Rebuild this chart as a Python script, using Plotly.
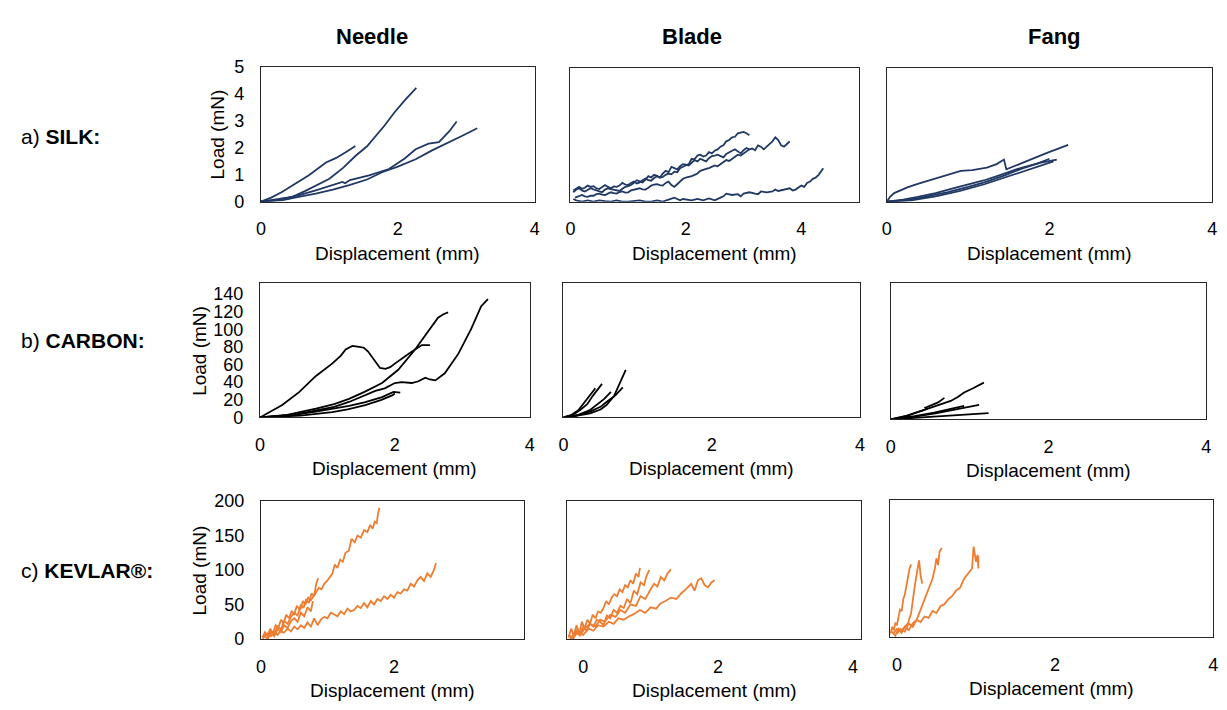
import plotly.graph_objects as go

OFF = 8                      # browser body margin around the plot div
W, H = 1227, 710

# ---------------- data (Displacement in mm, Load in mN) ----------------
# Silk - Needle
silk_needle_x = [
    [0, 0.15, 0.3, 0.46, 0.65, 0.8, 1.0, 1.2, 1.38, 1.55, 1.72, 1.8, 1.95, 2.1, 2.27],
    [0, 0.15, 0.3, 0.51, 0.7, 0.95, 1.1, 1.25, 1.38],
    [0, 0.2, 0.4, 0.56, 0.8, 1.0, 1.19, 1.23, 1.3, 1.58, 1.87, 2.1, 2.26, 2.45, 2.6, 2.75, 2.86],
    [0, 0.32, 0.55, 0.8, 1.05, 1.29, 1.55, 1.77, 2.0, 2.26, 2.5, 2.74, 2.95, 3.16],
]
silk_needle_y = [
    [0, 0.05, 0.1, 0.18, 0.4, 0.6, 0.85, 1.25, 1.69, 2.05, 2.54, 2.8, 3.3, 3.75, 4.21],
    [0, 0.15, 0.35, 0.67, 0.98, 1.45, 1.62, 1.85, 2.06],
    [0, 0.05, 0.15, 0.24, 0.42, 0.58, 0.73, 0.68, 0.8, 0.97, 1.21, 1.6, 1.94, 2.15, 2.2, 2.6, 2.97],
    [0, 0.06, 0.18, 0.30, 0.45, 0.61, 0.82, 1.09, 1.3, 1.57, 1.9, 2.18, 2.45, 2.72],
]
# Silk - Blade
silk_blade_x = [
    [0.05, 0.1, 0.15, 0.2, 0.25, 0.3, 0.35, 0.4, 0.45, 0.5, 0.55, 0.6, 0.65, 0.7, 0.75, 0.8, 0.85,
     0.9, 0.95, 1.0, 1.05, 1.1, 1.15, 1.2, 1.25, 1.3, 1.35, 1.4, 1.45, 1.5, 1.55, 1.6, 1.65, 1.7,
     1.75, 1.8, 1.85, 1.9, 1.95, 2.0, 2.05, 2.1, 2.15, 2.2, 2.25, 2.3, 2.35, 2.4, 2.45, 2.5, 2.55,
     2.6, 2.65, 2.7, 2.75, 2.8, 2.85, 2.9, 2.95, 3.0, 3.05, 3.1],
    [0.05, 0.1, 0.15, 0.2, 0.25, 0.3, 0.35, 0.4, 0.45, 0.5, 0.55, 0.6, 0.65, 0.7, 0.75, 0.8, 0.85,
     0.9, 0.95, 1.0, 1.05, 1.1, 1.15, 1.2, 1.25, 1.3, 1.35, 1.4, 1.45, 1.5, 1.55, 1.6, 1.65, 1.7,
     1.75, 1.8, 1.85, 1.9, 1.95, 2.0, 2.05, 2.1, 2.15, 2.2, 2.25, 2.3, 2.35, 2.4, 2.45, 2.5, 2.55,
     2.6, 2.65, 2.7, 2.75, 2.8, 2.85, 2.9, 2.95, 3.0, 3.05, 3.1, 3.15, 3.2, 3.25, 3.3, 3.35, 3.4,
     3.45, 3.5, 3.55, 3.6, 3.65, 3.7, 3.75, 3.8],
    [0.08, 0.15, 0.2, 0.25, 0.3, 0.35, 0.4, 0.45, 0.5, 0.55, 0.6, 0.65, 0.7, 0.75, 0.8, 0.85, 0.9,
     0.95, 1.0, 1.05, 1.1, 1.15, 1.2, 1.25, 1.3, 1.35, 1.4, 1.45, 1.5, 1.55, 1.6, 1.65, 1.7, 1.75,
     1.8, 1.85, 1.9, 1.95, 2.0, 2.05, 2.1, 2.15, 2.2, 2.25, 2.3, 2.35, 2.4, 2.45, 2.5, 2.55, 2.6,
     2.65, 2.7, 2.75, 2.8, 2.85, 2.9, 2.95, 3.0, 3.05, 3.1],
    [0.05, 0.1, 0.2, 0.3, 0.4, 0.5, 0.6, 0.7, 0.8, 0.9, 1.0, 1.1, 1.2, 1.3, 1.4, 1.5, 1.6, 1.7, 1.8,
     1.85, 1.9, 1.95, 2.0, 2.1, 2.2, 2.3, 2.4, 2.5, 2.6, 2.65, 2.7, 2.8, 2.9, 2.95, 3.0, 3.1, 3.2,
     3.25, 3.3, 3.4, 3.5, 3.55, 3.6, 3.7, 3.8, 3.85, 3.9, 4.0, 4.05, 4.1, 4.15, 4.2, 4.25, 4.3, 4.35,
     4.38],
]
silk_blade_y = [
    [0.42, 0.5, 0.55, 0.48, 0.52, 0.6, 0.55, 0.58, 0.5, 0.47, 0.55, 0.62, 0.55, 0.5, 0.57, 0.55, 0.6,
     0.7, 0.64, 0.62, 0.7, 0.75, 0.68, 0.72, 0.8, 0.86, 0.8, 0.78, 0.88, 0.95, 0.9, 0.92, 1.0, 1.05,
     1.02, 1.12, 1.1, 1.25, 1.3, 1.35, 1.4, 1.6, 1.58, 1.72, 1.75, 1.68, 1.72, 1.85, 1.8, 1.9, 1.95,
     2.05, 2.1, 2.25, 2.3, 2.4, 2.42, 2.55, 2.58, 2.6, 2.55, 2.48],
    [0.35, 0.45, 0.5, 0.42, 0.38, 0.45, 0.5, 0.46, 0.42, 0.38, 0.35, 0.45, 0.5, 0.47, 0.45, 0.42,
     0.4, 0.48, 0.55, 0.58, 0.62, 0.7, 0.8, 0.76, 0.72, 0.82, 0.95, 0.9, 1.0, 0.96, 0.9, 1.05, 1.15,
     1.1, 1.3, 1.25, 1.2, 1.32, 1.4, 1.38, 1.35, 1.45, 1.55, 1.5, 1.6, 1.55, 1.5, 1.62, 1.7, 1.72,
     1.75, 1.7, 1.65, 1.78, 1.85, 1.9, 1.95, 1.88, 1.8, 1.92, 2.0, 1.95, 1.98, 1.92, 2.1, 2.05, 1.95,
     2.05, 2.15, 2.25, 2.4, 2.3, 2.1, 2.05, 2.15, 2.25],
    [0.15, 0.22, 0.25, 0.2, 0.18, 0.22, 0.22, 0.28, 0.3, 0.26, 0.25, 0.3, 0.35, 0.32, 0.3, 0.36, 0.38,
     0.34, 0.35, 0.42, 0.45, 0.48, 0.5, 0.46, 0.45, 0.52, 0.6, 0.64, 0.65, 0.62, 0.6, 0.7, 0.75,
     0.62, 0.55, 0.65, 0.75, 0.85, 0.9, 0.92, 0.95, 1.0, 1.05, 1.15, 1.2, 1.22, 1.25, 1.3, 1.35,
     1.32, 1.4, 1.48, 1.55, 1.52, 1.6, 1.68, 1.75, 1.72, 1.8, 1.88, 1.95],
    [0.1, 0.05, 0.0, 0.05, 0.0, 0.05, 0.02, 0.0, 0.05, 0.0, 0.0, 0.03, 0.05, 0.0, 0.0, 0.05, 0.0, 0.08,
     0.15, 0.1, 0.05, 0.1, 0.08, 0.05, 0.1, 0.05, 0.12, 0.05, 0.15, 0.2, 0.3, 0.25, 0.28, 0.2, 0.3,
     0.35, 0.3, 0.28, 0.38, 0.35, 0.38, 0.45, 0.4, 0.45, 0.5, 0.42, 0.45, 0.6, 0.55, 0.7, 0.75, 0.85,
     0.9, 1.0, 1.15, 1.25],
]
# Silk - Fang
silk_fang_x = [
    [0, 0.02, 0.04, 0.09, 0.18, 0.26, 0.4, 0.58, 0.75, 0.91, 1.05, 1.23, 1.35, 1.44, 1.47, 1.55, 1.72, 1.97, 2.23],
    [0, 0.2, 0.38, 0.6, 0.79, 1.0, 1.19, 1.4, 1.6, 1.88, 2.09],
    [0, 0.25, 0.5, 0.75, 1.0, 1.2, 1.45, 1.65, 1.85, 2.0],
    [0, 0.3, 0.6, 0.9, 1.2, 1.5, 1.75, 1.95, 2.05],
]
silk_fang_y = [
    [0, 0.1, 0.18, 0.32, 0.45, 0.54, 0.68, 0.85, 1.0, 1.15, 1.18, 1.27, 1.4, 1.57, 1.21, 1.3, 1.51, 1.82, 2.12],
    [0, 0.08, 0.18, 0.32, 0.48, 0.63, 0.79, 1.0, 1.21, 1.45, 1.57],
    [0, 0.06, 0.2, 0.36, 0.55, 0.72, 0.98, 1.22, 1.42, 1.6],
    [0, 0.05, 0.2, 0.4, 0.65, 0.95, 1.2, 1.4, 1.5],
]
# Carbon - Needle
carbon_needle_x = [
    [0, 0.15, 0.33, 0.58, 0.83, 1.07, 1.2, 1.27, 1.37, 1.47, 1.54, 1.6, 1.66, 1.72, 1.78, 1.86, 1.93,
     2.0, 2.1, 2.2, 2.3, 2.4, 2.52],
    [0, 0.4, 0.83, 1.1, 1.32, 1.55, 1.81, 2.05, 2.3, 2.5, 2.64, 2.72, 2.79],
    [0, 0.5, 0.83, 1.1, 1.32, 1.5, 1.71, 1.85, 2.0, 2.1, 2.25, 2.35, 2.45, 2.52, 2.6, 2.74, 2.94, 3.13, 3.28, 3.38],
    [0, 0.5, 0.83, 1.1, 1.32, 1.55, 1.81, 1.98, 2.08],
    [0, 0.6, 1.07, 1.3, 1.56, 1.8, 1.96, 2.0],
]
carbon_needle_y = [
    [0, 6, 14, 28.7, 47, 61, 70, 77, 81, 80, 79, 75, 69, 62, 56, 55, 57, 61, 66, 72, 77, 82, 82],
    [0, 3, 10, 15, 21, 29, 39, 54, 77, 99, 113, 117, 119],
    [0, 3, 8, 12, 17.5, 23, 30, 33, 39, 40, 39, 41, 45, 43, 42, 50, 72, 100, 126, 134],
    [0, 3, 6.6, 10, 13, 17, 23, 29, 28],
    [0, 2, 6, 9, 14, 20, 25, 27],
]
# Carbon - Blade
carbon_blade_x = [
    [0, 0.15, 0.36, 0.5, 0.58, 0.68, 0.76, 0.84],
    [0, 0.12, 0.22, 0.32, 0.40, 0.46, 0.52],
    [0, 0.1, 0.2, 0.27, 0.35, 0.43],
    [0, 0.15, 0.36, 0.5, 0.58, 0.7, 0.8],
    [0, 0.2, 0.35, 0.45, 0.55, 0.64],
]
carbon_blade_y = [
    [0, 1.5, 4.7, 9, 14, 24, 39, 54],
    [0, 2.5, 8, 15, 25, 31, 38],
    [0, 2.5, 8, 16, 24, 33],
    [0, 1.5, 6.6, 12, 17.5, 25, 34],
    [0, 3, 8, 14, 21, 29],
]
# Carbon - Fang
carbon_fang_x = [
    [0, 0.2, 0.34, 0.46, 0.55, 0.68, 0.76, 0.85, 0.93, 1.05, 1.18],
    [0, 0.2, 0.34, 0.46, 0.44, 0.5, 0.6, 0.68],
    [0, 0.3, 0.55, 0.8, 0.95, 1.12],
    [0, 0.3, 0.55, 0.75, 0.93],
    [0, 0.3, 0.55, 0.9, 1.24],
]
carbon_fang_y = [
    [0, 4, 8, 11.6, 14.5, 18, 20.6, 25, 30, 35, 41],
    [0, 4, 8, 11.6, 13, 15, 19, 24],
    [0, 3, 6.5, 10.5, 13, 16.3],
    [0, 3.5, 7.5, 11, 15],
    [0, 1.5, 3, 5, 7],
]
# Kevlar - Needle
kevlar_needle_x = [
    [0.02, 0.06, 0.1, 0.14, 0.18, 0.22, 0.26, 0.3, 0.34, 0.38, 0.42, 0.46, 0.5, 0.54, 0.59, 0.63, 0.67,
     0.71, 0.75, 0.79, 0.83, 0.87, 0.91, 0.95, 0.99, 1.03, 1.07, 1.11, 1.15, 1.19, 1.23, 1.27, 1.32,
     1.36, 1.41, 1.45, 1.5, 1.55, 1.6, 1.64, 1.68, 1.71, 1.74, 1.76, 1.78],
    [0.03, 0.07, 0.11, 0.15, 0.2, 0.25, 0.3, 0.35, 0.4, 0.45, 0.5, 0.55, 0.6, 0.64, 0.68, 0.72, 0.76,
     0.8, 0.83, 0.86],
    [0.05, 0.1, 0.15, 0.2, 0.25, 0.3, 0.35, 0.4, 0.45, 0.5, 0.55, 0.6, 0.65, 0.7, 0.75, 0.78],
    [0.05, 0.1, 0.15, 0.2, 0.25, 0.3, 0.34, 0.4, 0.45, 0.5, 0.55, 0.6, 0.65, 0.7, 0.75, 0.8, 0.85, 0.9,
     0.95, 1.0, 1.05, 1.1, 1.15, 1.2, 1.25, 1.3, 1.35, 1.4, 1.45, 1.5, 1.55, 1.6, 1.65, 1.7, 1.75, 1.8,
     1.85, 1.9, 1.95, 2.0, 2.05, 2.1, 2.15, 2.2, 2.25, 2.3, 2.35, 2.4, 2.45, 2.5, 2.55, 2.6, 2.63],
]
kevlar_needle_y = [
    [2, 10, 5, 15, 8, 20, 16, 28, 23, 35, 30, 40, 36, 48, 42, 55, 50, 60, 56, 62, 68, 74, 72, 80, 84,
     90, 94, 108, 103, 115, 112, 125, 128, 145, 140, 150, 147, 158, 155, 165, 160, 170, 168, 182, 190],
    [0, 8, 3, 12, 6, 18, 14, 26, 22, 32, 38, 34, 50, 45, 58, 52, 66, 62, 80, 88],
    [5, 0, 10, 4, 14, 10, 20, 16, 26, 30, 25, 38, 33, 46, 40, 55],
    [3, 8, 4, 10, 6, 12, 9, 15, 11, 18, 14, 20, 16, 24, 18, 30, 20, 28, 32, 30, 38, 35, 33, 40, 36, 44,
     40, 42, 48, 45, 52, 46, 55, 50, 58, 55, 62, 58, 64, 60, 68, 66, 72, 70, 80, 76, 85, 90, 84, 95,
     90, 100, 110],
]
# Kevlar - Blade
kevlar_blade_x = [
    [-0.22, -0.18, -0.14, -0.1, -0.06, -0.02, 0.02, 0.06, 0.1, 0.14, 0.18, 0.22, 0.26, 0.3, 0.34, 0.38,
     0.42, 0.46, 0.5, 0.54, 0.58, 0.62, 0.66, 0.7, 0.74, 0.78, 0.82, 0.84],
    [-0.2, -0.15, -0.1, -0.05, 0, 0.05, 0.1, 0.15, 0.2, 0.25, 0.3, 0.35, 0.4, 0.45, 0.5, 0.55, 0.6,
     0.65, 0.7, 0.75, 0.8, 0.85, 0.9, 0.94, 0.98],
    [-0.2, -0.12, -0.05, 0.02, 0.1, 0.18, 0.25, 0.32, 0.4, 0.48, 0.55, 0.62, 0.7, 0.78, 0.85, 0.92, 1.0,
     1.05, 1.1, 1.15, 1.2, 1.25, 1.3],
    [-0.15, -0.08, 0, 0.08, 0.15, 0.22, 0.3, 0.38, 0.45, 0.52, 0.6, 0.68, 0.75, 0.84, 0.92, 1.0, 1.08,
     1.15, 1.22, 1.3, 1.38, 1.45, 1.52, 1.6, 1.65, 1.7, 1.75, 1.8, 1.85, 1.9, 1.95],
]
kevlar_blade_y = [
    [2, 15, 5, 20, 8, 25, 15, 28, 22, 35, 30, 40, 38, 45, 55, 50, 60, 65, 62, 72, 68, 78, 75, 85, 80,
     95, 90, 103],
    [5, 0, 12, 6, 18, 12, 22, 18, 28, 25, 20, 34, 30, 42, 38, 48, 45, 58, 52, 70, 65, 82, 78, 92, 100],
    [0, 10, 5, 15, 22, 18, 28, 25, 35, 32, 42, 38, 50, 48, 62, 58, 72, 80, 76, 90, 85, 95, 101],
    [2, 10, 6, 15, 12, 20, 18, 25, 22, 30, 28, 33, 36, 42, 38, 46, 44, 52, 55, 60, 58, 66, 72, 80, 70,
     85, 88, 78, 75, 82, 85],
]
# Kevlar - Fang
kevlar_fang_x = [
    [-0.08, -0.06, -0.04, -0.02, 0, 0.02, 0.04, 0.06, 0.08, 0.1, 0.12, 0.14, 0.16, 0.18],
    [-0.06, -0.02, 0.02, 0.06, 0.1, 0.14, 0.18, 0.2, 0.22, 0.24, 0.26, 0.28, 0.3, 0.32],
    [0.0, 0.05, 0.1, 0.15, 0.2, 0.25, 0.3, 0.35, 0.4, 0.45, 0.48, 0.5, 0.52, 0.54, 0.57],
    [-0.05, 0, 0.05, 0.1, 0.15, 0.2, 0.25, 0.3, 0.35, 0.4, 0.45, 0.5, 0.55, 0.6, 0.65, 0.7, 0.75, 0.8,
     0.85, 0.9, 0.95, 0.97, 1.0, 1.02, 1.03, 1.03],
]
kevlar_fang_y = [
    [5, 15, 10, 20, 18, 30, 40, 38, 55, 62, 75, 85, 100, 106],
    [8, 2, 12, 6, 15, 20, 35, 55, 70, 85, 100, 112, 90, 78],
    [5, 12, 8, 20, 15, 25, 40, 55, 70, 85, 100, 115, 105, 125, 130],
    [5, 12, 8, 15, 10, 20, 25, 22, 30, 28, 38, 35, 45, 48, 55, 60, 68, 72, 85, 92, 100, 132, 110, 120,
     100, 118],
]

col_titles = ["Needle", "Blade", "Fang"]
row_labels = ["a) <b>SILK:</b>", "b) <b>CARBON:</b>", "c) <b>KEVLAR®:</b>"]
x_title = "Displacement (mm)"
y_title = "Load (mN)"
x_ticks = [0, 2, 4]
silk_yticks = [0, 1, 2, 3, 4, 5]
carbon_yticks = [0, 20, 40, 60, 80, 100, 120, 140]
kevlar_yticks = [0, 50, 100, 150, 200]

SILK_C = "#1F3864"
CARBON_C = "#000000"
KEVLAR_C = "#ED7D31"
FONT = "Liberation Sans, Arial, sans-serif"


def px(x):
    return (x - OFF) / W


def py(y):
    return 1 - (y - OFF) / H


# panel layout: (left, top, right, bottom) in window px, x-range, y-range, ticks
panels = [
    dict(box=(258, 58, 534, 197), xr=[0, 4], yr=[0, 5], yt=silk_yticks, showy=True,
         xs=silk_needle_x, ys=silk_needle_y, c=SILK_C, ytx=214),
    dict(box=(570, 59, 861, 197), xr=[0, 5], yr=[0, 5], yt=silk_yticks, showy=False,
         xs=silk_blade_x, ys=silk_blade_y, c=SILK_C),
    dict(box=(889, 59, 1217, 197), xr=[0, 4], yr=[0, 5], yt=silk_yticks, showy=False,
         xs=silk_fang_x, ys=silk_fang_y, c=SILK_C),
    dict(box=(257, 281, 529, 419), xr=[0, 4], yr=[0, 152], yt=carbon_yticks, showy=True,
         xs=carbon_needle_x, ys=carbon_needle_y, c=CARBON_C, ytx=196),
    dict(box=(563, 281, 862, 419), xr=[0, 4], yr=[0, 152], yt=carbon_yticks, showy=False,
         xs=carbon_blade_x, ys=carbon_blade_y, c=CARBON_C),
    dict(box=(893, 281, 1211, 421), xr=[0, 4], yr=[0, 152], yt=carbon_yticks, showy=False,
         xs=carbon_fang_x, ys=carbon_fang_y, c=CARBON_C),
    dict(box=(258, 505, 523, 647), xr=[0, 3.95], yr=[0, 200], yt=kevlar_yticks, showy=True,
         xs=kevlar_needle_x, ys=kevlar_needle_y, c=KEVLAR_C, ytx=196),
    dict(box=(567, 505, 863, 647), xr=[-0.235, 4.12], yr=[0, 200], yt=kevlar_yticks, showy=False,
         xs=kevlar_blade_x, ys=kevlar_blade_y, c=KEVLAR_C),
    dict(box=(892, 504, 1218, 645), xr=[-0.09, 4.0], yr=[0, 200], yt=kevlar_yticks, showy=False,
         xs=kevlar_fang_x, ys=kevlar_fang_y, c=KEVLAR_C),
]

fig = go.Figure()
layout = dict(
    width=W, height=H, margin=dict(l=0, r=0, t=0, b=0),
    paper_bgcolor="white", plot_bgcolor="white", showlegend=False,
    font=dict(family=FONT, color="black", size=18),
)
annotations = []

for i, p in enumerate(panels, start=1):
    L, T, R, B = p["box"]
    xn = "x" if i == 1 else f"x{i}"
    yn = "y" if i == 1 else f"y{i}"
    for xs, ys in zip(p["xs"], p["ys"]):
        fig.add_trace(go.Scatter(x=xs, y=ys, mode="lines", xaxis=xn, yaxis=yn,
                                 line=dict(color=p["c"], width=1.8), hoverinfo="skip"))
    axis_common = dict(showgrid=False, zeroline=False, showline=True, mirror=True,
                       linecolor="#262626", linewidth=1, ticks="",
                       tickfont=dict(family=FONT, size=18, color="black"))
    layout["xaxis" if i == 1 else f"xaxis{i}"] = dict(
        axis_common, domain=[px(L), px(R)], anchor=yn, range=p["xr"],
        tickvals=x_ticks, ticklabelstandoff=11)
    layout["yaxis" if i == 1 else f"yaxis{i}"] = dict(
        axis_common, domain=[py(B), py(T)], anchor=xn, range=p["yr"],
        tickvals=p["yt"], showticklabels=p["showy"], ticklabelstandoff=12)
    annotations.append(dict(text=x_title, x=px((L + R) / 2), y=py(B + 53),
                            xref="paper", yref="paper", showarrow=False,
                            xanchor="center", yanchor="middle",
                            font=dict(family=FONT, size=19, color="black")))
    if p["showy"]:
        annotations.append(dict(text=y_title, x=px(p["ytx"]), y=py((T + B) / 2),
                                xref="paper", yref="paper", showarrow=False, textangle=-90,
                                xanchor="center", yanchor="middle",
                                font=dict(family=FONT, size=19, color="black")))

for name, cx in zip(col_titles, [370, 693, 1058]):
    annotations.append(dict(text=f"<b>{name}</b>", x=px(cx), y=py(27), xref="paper",
                            yref="paper", showarrow=False, xanchor="center", yanchor="middle",
                            font=dict(family=FONT, size=22, color="black")))
for lab, cy in zip(row_labels, [130, 340, 577]):
    annotations.append(dict(text=lab, x=px(14), y=py(cy), xref="paper", yref="paper",
                            showarrow=False, xanchor="left", yanchor="middle",
                            font=dict(family=FONT, size=21, color="black")))

layout["annotations"] = annotations
fig.update_layout(**layout)
fig.write_html("out.html")
